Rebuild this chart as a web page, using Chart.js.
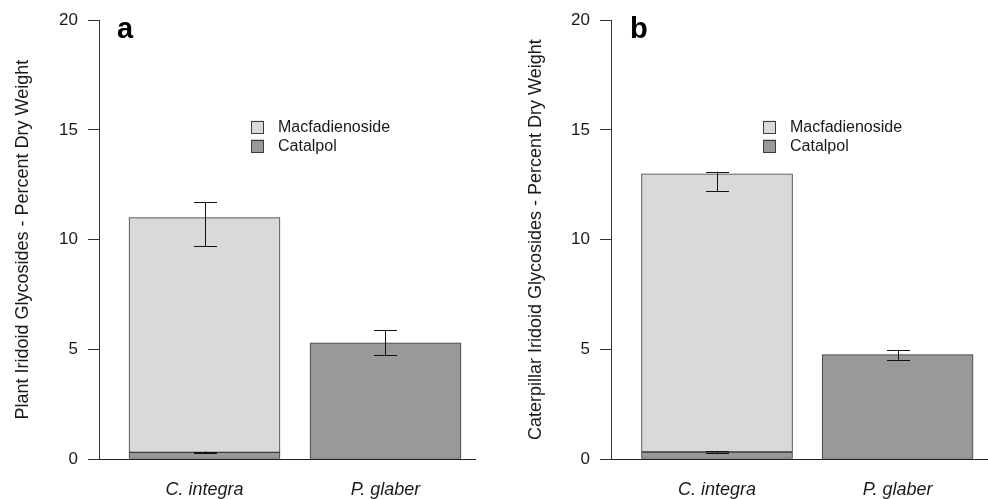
<!DOCTYPE html>
<html><head><meta charset="utf-8">
<script src="https://cdn.jsdelivr.net/npm/chart.js@4.4.1/dist/chart.umd.min.js"></script>
<style>
html,body{margin:0;padding:0;background:#fff;}
#wrap{position:relative;width:988px;height:499px;overflow:hidden;background:#fff;}
.panel{position:absolute;top:0;width:494px;height:499px;}
canvas{display:block;}
</style></head><body>
<div id="wrap">
<div class="panel" style="left:0"><canvas id="ca" width="494" height="499"></canvas></div>
<div class="panel" style="left:494px"><canvas id="cb" width="494" height="499"></canvas></div>
</div>
<script>
// ---- data ----
const categories = ['C. integra', 'P. glaber'];
const seriesNames = ['Catalpol', 'Macfadienoside'];
const yTicks = [0, 5, 10, 15, 20];

// panel a: plant
const catalpolA = [0.3, 5.3];
const macfA = [10.7, 0];
const catalpolLowA = [0.26, 4.72];
const catalpolHighA = [0.34, 5.87];
const macfLowA = [9.7, null];
const macfHighA = [11.7, null];

// panel b: caterpillar
const catalpolB = [0.32, 4.76];
const macfB = [12.68, 0];
const catalpolLowB = [0.28, 4.52];
const catalpolHighB = [0.36, 4.98];
const macfLowB = [12.2, null];
const macfHighB = [13.1, null];

// ---- style ----
const FONT = "'Liberation Sans', Arial, Helvetica, sans-serif";
const TXT = '#1a1a1a';
const LIGHT = '#d9d9d9';
const DARK = '#999999';
const EDGE = '#3a3a3a';

const errorBars = {
  id: 'errorBars',
  afterDatasetsDraw(chart, args, opts) {
    const ctx = chart.ctx, y = chart.scales.y;
    ctx.save();
    ctx.strokeStyle = '#111';
    ctx.lineWidth = 1;
    chart.data.datasets.forEach((ds, di) => {
      const meta = chart.getDatasetMeta(di);
      (ds.errLow || []).forEach((lo, i) => {
        const hi = ds.errHigh[i];
        if (lo == null || hi == null) return;
        const x = Math.round(meta.data[i].x) + 0.5;
        const y1 = y.getPixelForValue(lo), y2 = y.getPixelForValue(hi);
        const h = opts.cap / 2;
        ctx.beginPath();
        ctx.moveTo(x, y1); ctx.lineTo(x, y2);
        ctx.moveTo(x - h, Math.round(y1) + 0.5); ctx.lineTo(x + h, Math.round(y1) + 0.5);
        ctx.moveTo(x - h, Math.round(y2) + 0.5); ctx.lineTo(x + h, Math.round(y2) + 0.5);
        ctx.stroke();
      });
    });
    ctx.restore();
  }
};

const customLegend = {
  id: 'customLegend',
  afterDraw(chart, args, opts) {
    const ctx = chart.ctx;
    ctx.save();
    ctx.font = '16px ' + FONT;
    ctx.textBaseline = 'middle';
    ctx.textAlign = 'left';
    const ds = chart.data.datasets.slice().reverse();
    ds.forEach((d, k) => {
      const cy = opts.y + k * opts.gap;
      ctx.fillStyle = d.backgroundColor;
      ctx.fillRect(opts.x, cy - 6.5, 13, 13);
      ctx.strokeStyle = EDGE;
      ctx.lineWidth = 1;
      ctx.strokeRect(opts.x + 0.5, Math.round(cy - 6.5) + 0.5, 12, 12);
      ctx.fillStyle = TXT;
      ctx.fillText(d.label, opts.x + 27, cy + 1);
    });
    ctx.restore();
  }
};

const panelLetter = {
  id: 'panelLetter',
  afterDraw(chart, args, opts) {
    const ctx = chart.ctx;
    ctx.save();
    ctx.font = 'bold 29px ' + FONT;
    ctx.fillStyle = '#000';
    ctx.textBaseline = 'alphabetic';
    ctx.fillText(opts.text, opts.x, opts.y);
    ctx.restore();
  }
};

function makeChart(id, p) {
  return new Chart(document.getElementById(id), {
    type: 'bar',
    data: {
      datasets: [
        { label: seriesNames[0], data: p.catalpol.map((v, i) => ({ x: i, y: v })),
          backgroundColor: DARK, borderColor: EDGE, borderWidth: 1, borderSkipped: false,
          errLow: p.catLow, errHigh: p.catHigh },
        { label: seriesNames[1], data: p.macf.map((v, i) => ({ x: i, y: v })),
          backgroundColor: LIGHT, borderColor: EDGE, borderWidth: 1, borderSkipped: false,
          errLow: p.macLow, errHigh: p.macHigh }
      ]
    },
    options: {
      responsive: false,
      animation: false,
      devicePixelRatio: 1,
      barThickness: p.barW,
      layout: { padding: { top: 17, right: p.padR, left: 0, bottom: 0 } },
      plugins: {
        legend: { display: false },
        tooltip: { enabled: false },
        errorBars: { cap: 23 },
        customLegend: { x: p.legX, y: 127, gap: 19 },
        panelLetter: { text: p.letter, x: p.letX, y: 38 }
      },
      scales: {
        x: {
          type: 'linear', min: p.xMin, max: p.xMax, stacked: true, offset: false,
          afterBuildTicks: s => { s.ticks = categories.map((c, i) => ({ value: i })); },
          afterFit: s => { s.height = 40; },
          ticks: { callback: v => categories[v], font: { family: FONT, size: 18, style: 'italic' },
                   color: TXT, padding: 12, maxRotation: 0, autoSkip: false },
          grid: { display: false, offset: false },
          border: { display: true, color: '#222', width: 1 }
        },
        y: {
          type: 'linear', min: 0, max: 20, stacked: true,
          afterBuildTicks: s => { s.ticks = yTicks.map(v => ({ value: v })); },
          afterFit: s => { s.width = p.yW; },
          ticks: { font: { family: FONT, size: 17 }, color: TXT, padding: 10 },
          grid: { display: true, drawOnChartArea: false, drawTicks: true, tickLength: 11,
                  color: '#333', tickColor: '#333' },
          border: { display: true, color: '#333', width: 1 },
          title: { display: true, text: p.title, font: { family: FONT, size: 18 }, color: TXT,
                   padding: { top: p.titlePad, bottom: 0 } }
        }
      }
    },
    plugins: [errorBars, customLegend, panelLetter]
  });
}

makeChart('ca', {
  catalpol: catalpolA, macf: macfA, catLow: catalpolLowA, catHigh: catalpolHighA,
  macLow: macfLowA, macHigh: macfHighA,
  title: 'Plant Iridoid Glycosides - Percent Dry Weight',
  letter: 'a', letX: 117, legX: 251, yW: 99, padR: 19, titlePad: 12,
  xMin: -0.5829, xMax: 1.4945, barW: 151
});
makeChart('cb', {
  catalpol: catalpolB, macf: macfB, catLow: catalpolLowB, catHigh: catalpolHighB,
  macLow: macfLowB, macHigh: macfHighB,
  title: 'Caterpillar Iridoid Glycosides - Percent Dry Weight',
  letter: 'b', letX: 136, legX: 269, yW: 117, padR: 0, titlePad: 31,
  xMin: -0.587, xMax: 1.5005, barW: 151
});
</script>
</body></html>
